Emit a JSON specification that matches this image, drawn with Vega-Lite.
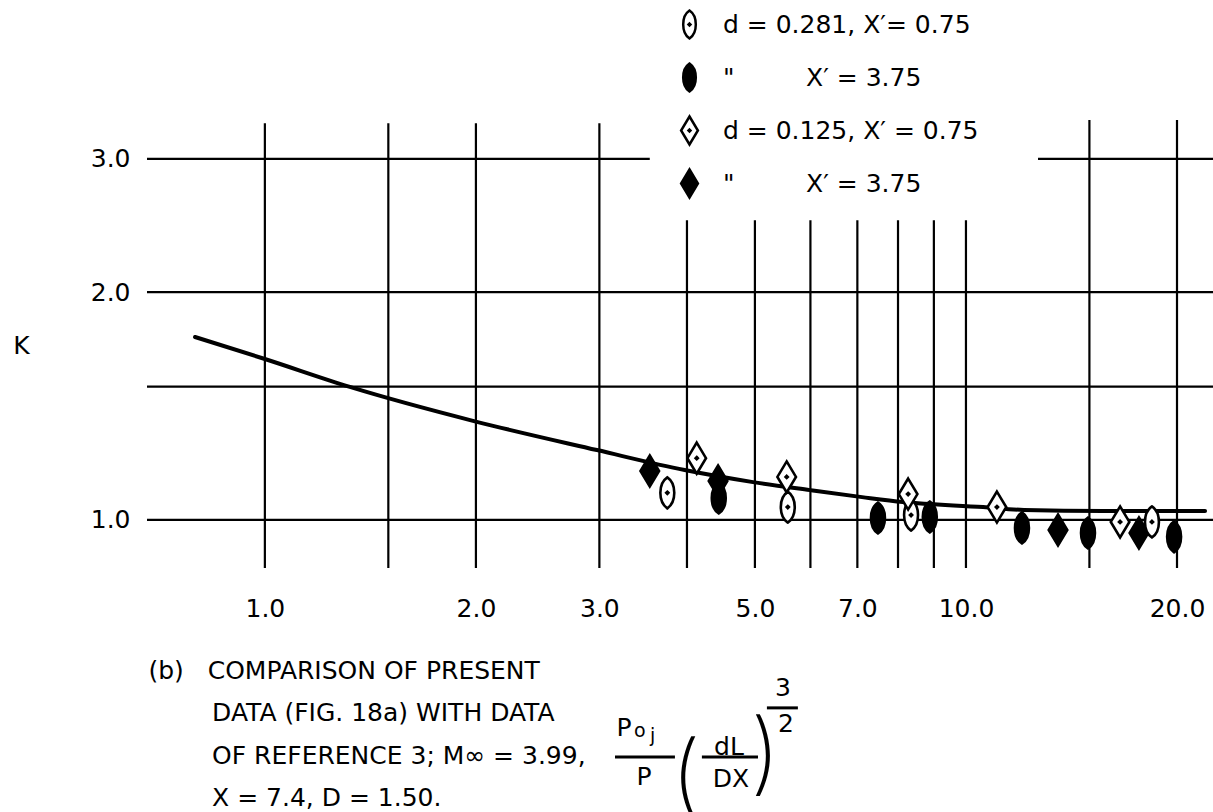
{
  "$schema": "https://vega.github.io/schema/vega-lite/v6.json",
  "width": 1066,
  "height": 448,
  "autosize": {"type": "none"},
  "padding": {"left": 147, "top": 120, "right": 0, "bottom": 244},
  "background": "white",
  "datasets": {
    "points": [
      {"x": 3.54, "K": 1.161, "series": "d = 0.125, X′ = 3.75"},
      {"x": 4.43, "K": 1.126, "series": "d = 0.125, X′ = 3.75"},
      {"x": 13.53, "K": 0.970, "series": "d = 0.125, X′ = 3.75"},
      {"x": 17.65, "K": 0.961, "series": "d = 0.125, X′ = 3.75"},
      {"x": 3.75, "K": 1.086, "series": "d = 0.281, X′= 0.75"},
      {"x": 5.57, "K": 1.040, "series": "d = 0.281, X′= 0.75"},
      {"x": 8.35, "K": 1.015, "series": "d = 0.281, X′= 0.75"},
      {"x": 18.42, "K": 0.994, "series": "d = 0.281, X′= 0.75"},
      {"x": 4.13, "K": 1.207, "series": "d = 0.125, X′ = 0.75"},
      {"x": 5.55, "K": 1.140, "series": "d = 0.125, X′ = 0.75"},
      {"x": 8.27, "K": 1.082, "series": "d = 0.125, X′ = 0.75"},
      {"x": 11.07, "K": 1.040, "series": "d = 0.125, X′ = 0.75"},
      {"x": 16.59, "K": 0.994, "series": "d = 0.125, X′ = 0.75"},
      {"x": 4.44, "K": 1.069, "series": "d = 0.281, X′ = 3.75"},
      {"x": 7.49, "K": 1.006, "series": "d = 0.281, X′ = 3.75"},
      {"x": 8.88, "K": 1.009, "series": "d = 0.281, X′ = 3.75"},
      {"x": 12.02, "K": 0.976, "series": "d = 0.281, X′ = 3.75"},
      {"x": 14.93, "K": 0.961, "series": "d = 0.281, X′ = 3.75"},
      {"x": 19.81, "K": 0.950, "series": "d = 0.281, X′ = 3.75"}
    ],
    "curve": [
      {"x": 0.795, "K": 1.745},
      {"x": 1.0, "K": 1.632},
      {"x": 1.322, "K": 1.499},
      {"x": 1.987, "K": 1.351},
      {"x": 2.976, "K": 1.237},
      {"x": 3.97, "K": 1.164},
      {"x": 4.97, "K": 1.122},
      {"x": 5.99, "K": 1.095},
      {"x": 7.11, "K": 1.072},
      {"x": 8.13, "K": 1.056},
      {"x": 10.58, "K": 1.040},
      {"x": 12.1, "K": 1.031},
      {"x": 15.74, "K": 1.028},
      {"x": 21.93, "K": 1.028}
    ]
  },
  "layer": [
    {
      "data": {"name": "points"},
      "mark": {"type": "point", "opacity": 0},
      "encoding": {
        "x": {
          "field": "x", "type": "quantitative",
          "scale": {"type": "log", "domain": [0.679, 22.51]},
          "axis": {
            "values": [1, 2, 3, 5, 7, 10, 20],
            "format": ".1f",
            "labelPadding": 28,
            "labelOverlap": false,
            "labelFlush": false,
            "title": ["(b)\u00a0\u00a0\u00a0COMPARISON OF PRESENT", "\u200b\u00a0\u00a0\u00a0\u00a0\u00a0\u00a0\u00a0\u00a0DATA (FIG. 18a) WITH DATA", "\u200b\u00a0\u00a0\u00a0\u00a0\u00a0\u00a0\u00a0\u00a0OF REFERENCE 3; M∞ = 3.99,", "\u200b\u00a0\u00a0\u00a0\u00a0\u00a0\u00a0\u00a0\u00a0X = 7.4, D = 1.50."],
            "titleX": 1,
            "titleY": 90,
            "titleAlign": "left",
            "titleBaseline": "top",
            "titleAngle": 0,
            "titleLineHeight": 42.5
          }
        },
        "y": {
          "field": "K", "type": "quantitative",
          "scale": {"type": "log", "domain": [0.864, 3.377]},
          "axis": {
            "values": [1, 2, 3],
            "format": ".1f",
            "labelPadding": 17,
            "title": "K",
            "titleAngle": 0,
            "titleX": -126,
            "titleY": 225,
            "titleAlign": "center",
            "titleBaseline": "middle"
          }
        }
      }
    },
    {
      "data": {"values": [{"xv": 1}, {"xv": 1.5}, {"xv": 2}, {"xv": 3}]},
      "mark": {"type": "rule", "color": "black", "strokeWidth": 2.2},
      "encoding": {
        "x": {"field": "xv", "type": "quantitative", "scale": {"type": "log", "domain": [0.679, 22.51]}},
        "y": {"datum": 0.864, "type": "quantitative", "scale": {"type": "log", "domain": [0.864, 3.377]}},
        "y2": {"datum": 3.345}
      }
    },
    {
      "data": {"values": [{"xv": 4}, {"xv": 5}, {"xv": 6}, {"xv": 7}, {"xv": 8}, {"xv": 9}, {"xv": 10}]},
      "mark": {"type": "rule", "color": "black", "strokeWidth": 2.2},
      "encoding": {
        "x": {"field": "xv", "type": "quantitative", "scale": {"type": "log", "domain": [0.679, 22.51]}},
        "y": {"datum": 0.864, "type": "quantitative", "scale": {"type": "log", "domain": [0.864, 3.377]}},
        "y2": {"datum": 2.49}
      }
    },
    {
      "data": {"values": [{"xv": 15}, {"xv": 20}]},
      "mark": {"type": "rule", "color": "black", "strokeWidth": 2.2},
      "encoding": {
        "x": {"field": "xv", "type": "quantitative", "scale": {"type": "log", "domain": [0.679, 22.51]}},
        "y": {"datum": 0.864, "type": "quantitative", "scale": {"type": "log", "domain": [0.864, 3.377]}},
        "y2": {"datum": 3.377}
      }
    },
    {
      "data": {"values": [{"kv": 1}, {"kv": 1.5}, {"kv": 2}]},
      "mark": {"type": "rule", "color": "black", "strokeWidth": 2.2},
      "encoding": {
        "y": {"field": "kv", "type": "quantitative", "scale": {"type": "log", "domain": [0.864, 3.377]}},
        "x": {"datum": 0.679, "type": "quantitative", "scale": {"type": "log", "domain": [0.679, 22.51]}},
        "x2": {"datum": 22.51}
      }
    },
    {
      "data": {"values": [{"kv": 3}]},
      "mark": {"type": "rule", "color": "black", "strokeWidth": 2.2},
      "encoding": {
        "y": {"field": "kv", "type": "quantitative", "scale": {"type": "log", "domain": [0.864, 3.377]}},
        "x": {"datum": 0.679, "type": "quantitative", "scale": {"type": "log", "domain": [0.679, 22.51]}},
        "x2": {"datum": 3.54}
      }
    },
    {
      "data": {"values": [{"kv": 3}]},
      "mark": {"type": "rule", "color": "black", "strokeWidth": 2.2},
      "encoding": {
        "y": {"field": "kv", "type": "quantitative", "scale": {"type": "log", "domain": [0.864, 3.377]}},
        "x": {"datum": 12.67, "type": "quantitative", "scale": {"type": "log", "domain": [0.679, 22.51]}},
        "x2": {"datum": 22.51}
      }
    },
    {
      "data": {"name": "curve"},
      "mark": {"type": "line", "color": "black", "strokeWidth": 4, "interpolate": "monotone", "strokeCap": "round"},
      "encoding": {
        "x": {"field": "x", "type": "quantitative", "scale": {"type": "log", "domain": [0.679, 22.51]}},
        "y": {"field": "K", "type": "quantitative", "scale": {"type": "log", "domain": [0.864, 3.377]}}
      }
    },
    {
      "data": {"name": "points"},
      "mark": {"type": "point", "filled": true, "stroke": "black", "strokeWidth": 2.6, "opacity": 1, "size": 960},
      "encoding": {
        "x": {"field": "x", "type": "quantitative", "scale": {"type": "log", "domain": [0.679, 22.51]}},
        "y": {"field": "K", "type": "quantitative", "scale": {"type": "log", "domain": [0.864, 3.377]}},
        "fill": {
          "field": "series", "type": "nominal",
          "scale": {
            "domain": ["d = 0.281, X′= 0.75", "d = 0.281, X′ = 3.75", "d = 0.125, X′ = 0.75", "d = 0.125, X′ = 3.75"],
            "range": ["white", "black", "white", "black"]
          },
          "legend": {
            "orient": "none",
            "legendX": 527,
            "legendY": -111,
            "title": null,
            "padding": 0,
            "symbolSize": 784,
            "symbolStrokeWidth": 2.5,
            "symbolStrokeColor": "black",
            "symbolOpacity": 1,
            "labelFont": "DejaVu Sans",
            "labelFontSize": 25,
            "labelColor": "black",
            "labelOffset": 18,
            "labelLimit": 0,
            "rowPadding": 14,
            "labelExpr": "indexof(datum.label, '3.75') >= 0 ? '\u00a0\u00a0\u00a0\u00a0\u00a0\u00a0\u00a0\u00a0\u00a0\u00a0\"\u00a0\u00a0\u00a0\u00a0\u00a0\u00a0\u00a0\u00a0\u00a0X′ = 3.75' : datum.label"
          }
        },
        "shape": {
          "field": "series", "type": "nominal",
          "scale": {
            "domain": ["d = 0.281, X′= 0.75", "d = 0.281, X′ = 3.75", "d = 0.125, X′ = 0.75", "d = 0.125, X′ = 3.75"],
            "range": [
              "M0,-1C0.6,-0.6 0.6,0.6 0,1C-0.6,0.6 -0.6,-0.6 0,-1ZM0,-0.07L0.07,0L0,0.07L-0.07,0Z",
              "M0,-1C0.6,-0.6 0.6,0.6 0,1C-0.6,0.6 -0.6,-0.6 0,-1ZM0,-0.07L0.07,0L0,0.07L-0.07,0Z",
              "M0,-1L0.6,0L0,1L-0.6,0ZM0,-0.07L0.07,0L0,0.07L-0.07,0Z",
              "M0,-1L0.6,0L0,1L-0.6,0ZM0,-0.07L0.07,0L0,0.07L-0.07,0Z"
            ]
          }
        }
      }
    },
    {
      "data": {"values": [{}]},
      "mark": {"type": "text", "text": "P", "fontSize": 25, "font": "DejaVu Sans", "color": "black", "baseline": "middle"},
      "encoding": {
        "x": {"datum": 3.252, "type": "quantitative", "scale": {"type": "log", "domain": [0.679, 22.51]}},
        "y": {"datum": 0.531, "type": "quantitative", "scale": {"type": "log", "domain": [0.864, 3.377]}}
      }
    },
    {
      "data": {"values": [{}]},
      "mark": {"type": "text", "text": "o", "fontSize": 19, "font": "DejaVu Sans", "color": "black", "baseline": "middle"},
      "encoding": {
        "x": {"datum": 3.427, "type": "quantitative", "scale": {"type": "log", "domain": [0.679, 22.51]}},
        "y": {"datum": 0.526, "type": "quantitative", "scale": {"type": "log", "domain": [0.864, 3.377]}}
      }
    },
    {
      "data": {"values": [{}]},
      "mark": {"type": "text", "text": "j", "fontSize": 19, "font": "DejaVu Sans", "color": "black", "baseline": "middle"},
      "encoding": {
        "x": {"datum": 3.575, "type": "quantitative", "scale": {"type": "log", "domain": [0.679, 22.51]}},
        "y": {"datum": 0.5185, "type": "quantitative", "scale": {"type": "log", "domain": [0.864, 3.377]}}
      }
    },
    {
      "data": {"values": [{}]},
      "mark": {"type": "rule", "color": "black", "strokeWidth": 3},
      "encoding": {
        "x": {"datum": 3.158, "type": "quantitative", "scale": {"type": "log", "domain": [0.679, 22.51]}},
        "x2": {"datum": 3.845},
        "y": {"datum": 0.4863, "type": "quantitative", "scale": {"type": "log", "domain": [0.864, 3.377]}}
      }
    },
    {
      "data": {"values": [{}]},
      "mark": {"type": "text", "text": "P", "fontSize": 25, "font": "DejaVu Sans", "color": "black", "baseline": "middle"},
      "encoding": {
        "x": {"datum": 3.473, "type": "quantitative", "scale": {"type": "log", "domain": [0.679, 22.51]}},
        "y": {"datum": 0.4575, "type": "quantitative", "scale": {"type": "log", "domain": [0.864, 3.377]}}
      }
    },
    {
      "data": {"values": [{}]},
      "mark": {"type": "text", "text": "(", "fontSize": 90, "font": "Inter", "fontWeight": 200, "color": "black", "baseline": "middle"},
      "encoding": {
        "x": {"datum": 3.987, "type": "quantitative", "scale": {"type": "log", "domain": [0.679, 22.51]}},
        "y": {"datum": 0.4545, "type": "quantitative", "scale": {"type": "log", "domain": [0.864, 3.377]}}
      }
    },
    {
      "data": {"values": [{}]},
      "mark": {"type": "text", "text": "dL", "fontSize": 25, "font": "DejaVu Sans", "color": "black", "baseline": "middle"},
      "encoding": {
        "x": {"datum": 4.591, "type": "quantitative", "scale": {"type": "log", "domain": [0.679, 22.51]}},
        "y": {"datum": 0.5013, "type": "quantitative", "scale": {"type": "log", "domain": [0.864, 3.377]}}
      }
    },
    {
      "data": {"values": [{}]},
      "mark": {"type": "rule", "color": "black", "strokeWidth": 3},
      "encoding": {
        "x": {"datum": 4.201, "type": "quantitative", "scale": {"type": "log", "domain": [0.679, 22.51]}},
        "x2": {"datum": 5.051},
        "y": {"datum": 0.4863, "type": "quantitative", "scale": {"type": "log", "domain": [0.864, 3.377]}}
      }
    },
    {
      "data": {"values": [{}]},
      "mark": {"type": "text", "text": "DX", "fontSize": 25, "font": "DejaVu Sans", "color": "black", "baseline": "middle"},
      "encoding": {
        "x": {"datum": 4.621, "type": "quantitative", "scale": {"type": "log", "domain": [0.679, 22.51]}},
        "y": {"datum": 0.4547, "type": "quantitative", "scale": {"type": "log", "domain": [0.864, 3.377]}}
      }
    },
    {
      "data": {"values": [{}]},
      "mark": {"type": "text", "text": ")", "fontSize": 90, "font": "Inter", "fontWeight": 200, "color": "black", "baseline": "middle"},
      "encoding": {
        "x": {"datum": 5.17, "type": "quantitative", "scale": {"type": "log", "domain": [0.679, 22.51]}},
        "y": {"datum": 0.4855, "type": "quantitative", "scale": {"type": "log", "domain": [0.864, 3.377]}}
      }
    },
    {
      "data": {"values": [{}]},
      "mark": {"type": "text", "text": "3", "fontSize": 25, "font": "DejaVu Sans", "color": "black", "baseline": "middle"},
      "encoding": {
        "x": {"datum": 5.482, "type": "quantitative", "scale": {"type": "log", "domain": [0.679, 22.51]}},
        "y": {"datum": 0.6, "type": "quantitative", "scale": {"type": "log", "domain": [0.864, 3.377]}}
      }
    },
    {
      "data": {"values": [{}]},
      "mark": {"type": "rule", "color": "black", "strokeWidth": 3},
      "encoding": {
        "x": {"datum": 5.201, "type": "quantitative", "scale": {"type": "log", "domain": [0.679, 22.51]}},
        "x2": {"datum": 5.758},
        "y": {"datum": 0.5645, "type": "quantitative", "scale": {"type": "log", "domain": [0.864, 3.377]}}
      }
    },
    {
      "data": {"values": [{}]},
      "mark": {"type": "text", "text": "2", "fontSize": 25, "font": "DejaVu Sans", "color": "black", "baseline": "middle"},
      "encoding": {
        "x": {"datum": 5.537, "type": "quantitative", "scale": {"type": "log", "domain": [0.679, 22.51]}},
        "y": {"datum": 0.5377, "type": "quantitative", "scale": {"type": "log", "domain": [0.864, 3.377]}}
      }
    }
  ],
  "config": {
    "view": {"stroke": null},
    "font": "DejaVu Sans",
    "axis": {
      "grid": false,
      "domain": false,
      "ticks": false,
      "labelFont": "DejaVu Sans",
      "labelFontSize": 25,
      "labelColor": "black",
      "titleFont": "DejaVu Sans",
      "titleFontSize": 25,
      "titleFontWeight": "normal",
      "titleColor": "black"
    }
  }
}
